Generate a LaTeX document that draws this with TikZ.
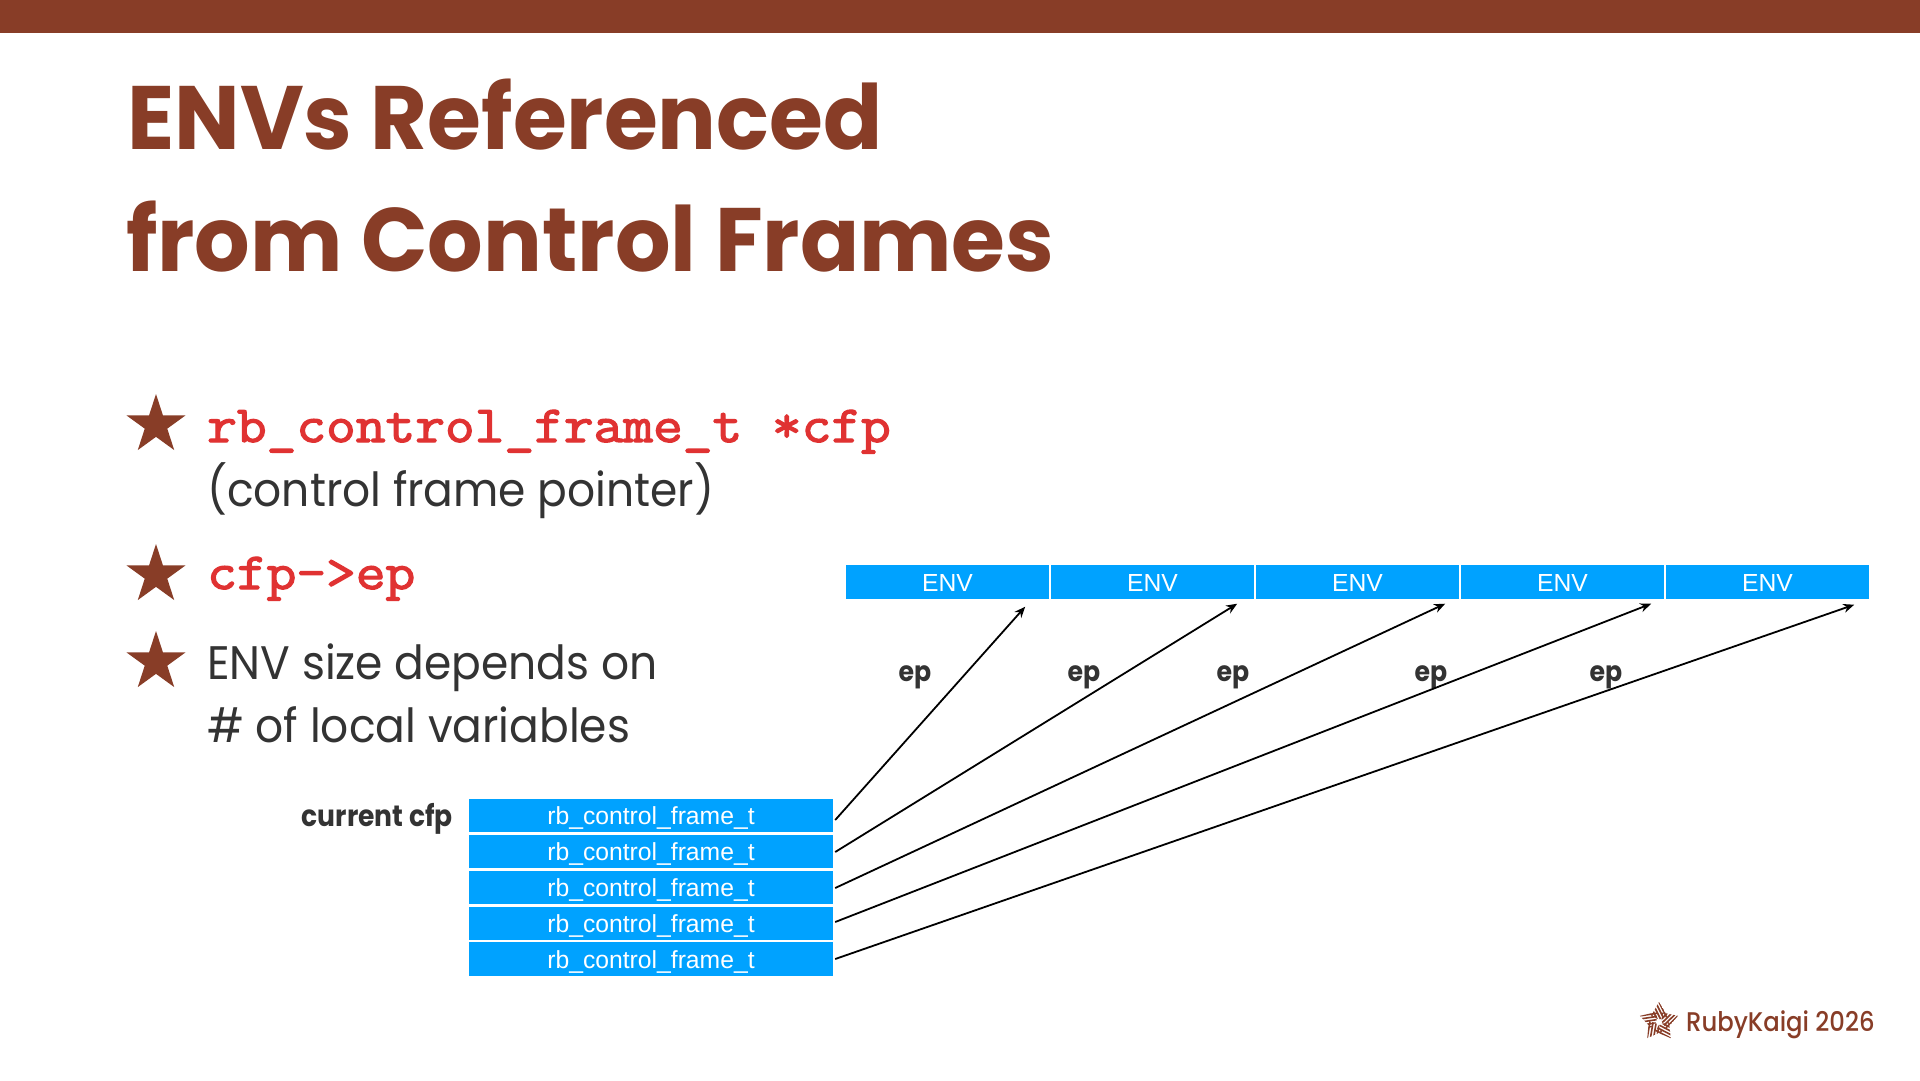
\documentclass[tikz,border=0pt]{standalone}
\usepackage{fontspec}
\usetikzlibrary{arrows.meta,shapes.geometric}
\setmainfont{Poppins}
\newfontfamily\codefont[FakeStretch=1.11,FakeBold=2.5]{Latin Modern Mono}
\newfontfamily\titlefont[FakeStretch=0.97]{Poppins Bold}
\newfontfamily\bodyfont[FakeStretch=0.935]{Poppins}
\newfontfamily\labelfont[FakeStretch=0.9]{Poppins Bold}
\newfontfamily\logofont[FakeStretch=0.9]{Poppins Medium}
\newfontfamily\boxfont{Liberation Sans}
\definecolor{brownc}{HTML}{883D27}
\definecolor{bluec}{HTML}{00A2FF}
\definecolor{redc}{HTML}{E03232}
\definecolor{inkc}{HTML}{333333}
\tikzset{
  titletext/.style={anchor=base west,inner sep=0pt,text=brownc,font=\titlefont\fontsize{90}{100}\selectfont},
  bodytext/.style={anchor=base west,inner sep=0pt,text=inkc,font=\bodyfont\fontsize{47}{54}\selectfont},
  codetext/.style={anchor=base west,inner sep=0pt,text=redc,font=\codefont\fontsize{52}{54}\selectfont},
  labeltext/.style={inner sep=0pt,text=inkc,font=\labelfont\fontsize{28}{32}\selectfont},
  starmark/.style={star,star points=5,star point ratio=2.618,fill=brownc,draw=none,inner sep=0pt,minimum size=62pt},
  framebox/.style={fill=bluec,draw=none,inner sep=0pt,text=white,minimum width=364pt,minimum height=33.5pt,text height=20pt,text depth=2pt,font=\boxfont\fontsize{24.7}{28}\selectfont},
  envbox/.style={fill=bluec,draw=none,inner sep=0pt,text=white,minimum width=203pt,minimum height=34pt,text height=19pt,text depth=0pt,font=\boxfont\fontsize{24.7}{28}\selectfont},
  ptr/.style={draw=black,line width=1.8pt,-{Stealth[length=11pt,width=9pt]}}
}
\begin{document}
\begin{tikzpicture}[x=1pt,y=-1pt]
\useasboundingbox (0,0) rectangle (1920,1080);
\fill[white] (0,0) rectangle (1920,1080);
\fill[brownc] (0,0) rectangle (1920,33);
\node[titletext] (t1) at (127,149) {ENVs Referenced};
\node[titletext] (t2) at (126,271) {from Control Frames};
\node[starmark] (s1) at (156,425) {};
\node[starmark] (s2) at (156,575) {};
\node[starmark] (s3) at (156,662) {};
\node[codetext] (b1) at (207,442) {rb\_control\_frame\_t *cfp};
\node[bodytext] (b1b) at (207,506) {(control frame pointer)};
\node[codetext] (b2) at (207,589) {cfp->ep};
\node[bodytext] (b3) at (207,679) {ENV size depends on};
\node[bodytext] (b3b) at (207,742) {\# of local variables};
\node[framebox] (c1) at (651,815.5) {rb\_control\_frame\_t};
\node[framebox] (c2) at (651,851.5) {rb\_control\_frame\_t};
\node[framebox] (c3) at (651,887.5) {rb\_control\_frame\_t};
\node[framebox] (c4) at (651,923.5) {rb\_control\_frame\_t};
\node[framebox] (c5) at (651,959) {rb\_control\_frame\_t};
\node[labeltext,anchor=base east,font=\labelfont\fontsize{29.5}{32}\selectfont] (cur) at (453,826) {current cfp};
\node[envbox] (e1) at (947.5,581.5) {ENV};
\node[envbox] (e2) at (1152.5,581.5) {ENV};
\node[envbox] (e3) at (1357.5,581.5) {ENV};
\node[envbox] (e4) at (1562.5,581.5) {ENV};
\node[envbox] (e5) at (1767.5,581.5) {ENV};
\node[labeltext,anchor=base] (p1) at (915,681) {ep};
\node[labeltext,anchor=base] (p2) at (1084,681) {ep};
\node[labeltext,anchor=base] (p3) at (1233,681) {ep};
\node[labeltext,anchor=base] (p4) at (1431,681) {ep};
\node[labeltext,anchor=base] (p5) at (1606,681) {ep};
\draw[ptr] ([xshift=2pt,yshift=-4.5pt]c1.east) -- ([xshift=-24pt,yshift=-8pt]e1.south east);
\draw[ptr] ([xshift=2pt,yshift=-0.5pt]c2.east) -- ([xshift=-17pt,yshift=-5pt]e2.south east);
\draw[ptr] ([xshift=2pt,yshift=-0.5pt]c3.east) -- ([xshift=-14pt,yshift=-5pt]e3.south east);
\draw[ptr] ([xshift=2pt,yshift=1.5pt]c4.east) -- ([xshift=-13pt,yshift=-5pt]e4.south east);
\draw[ptr] ([xshift=2pt,yshift=0pt]c5.east) -- ([xshift=-15pt,yshift=-6pt]e5.south east);
% logo
\begin{scope}[shift={(1659,1022)}]
\foreach \a in {0,72,144,216,288}{
  \begin{scope}[rotate=\a]
    \clip (0,-20) -- (9,-5) -- (0,-2.5) -- (-8,-6) -- cycle;
    \foreach \k in {-30,-26.5,...,30}{
      \draw[brownc,line width=1.6pt] (\k,-24) -- (\k+14,4);
    }
  \end{scope}
}
\end{scope}
\node[anchor=base west,inner sep=0pt,text=brownc,font=\logofont\fontsize{27}{30}\selectfont] (logo) at (1686,1031) {RubyKaigi 2026};
\end{tikzpicture}
\end{document}
